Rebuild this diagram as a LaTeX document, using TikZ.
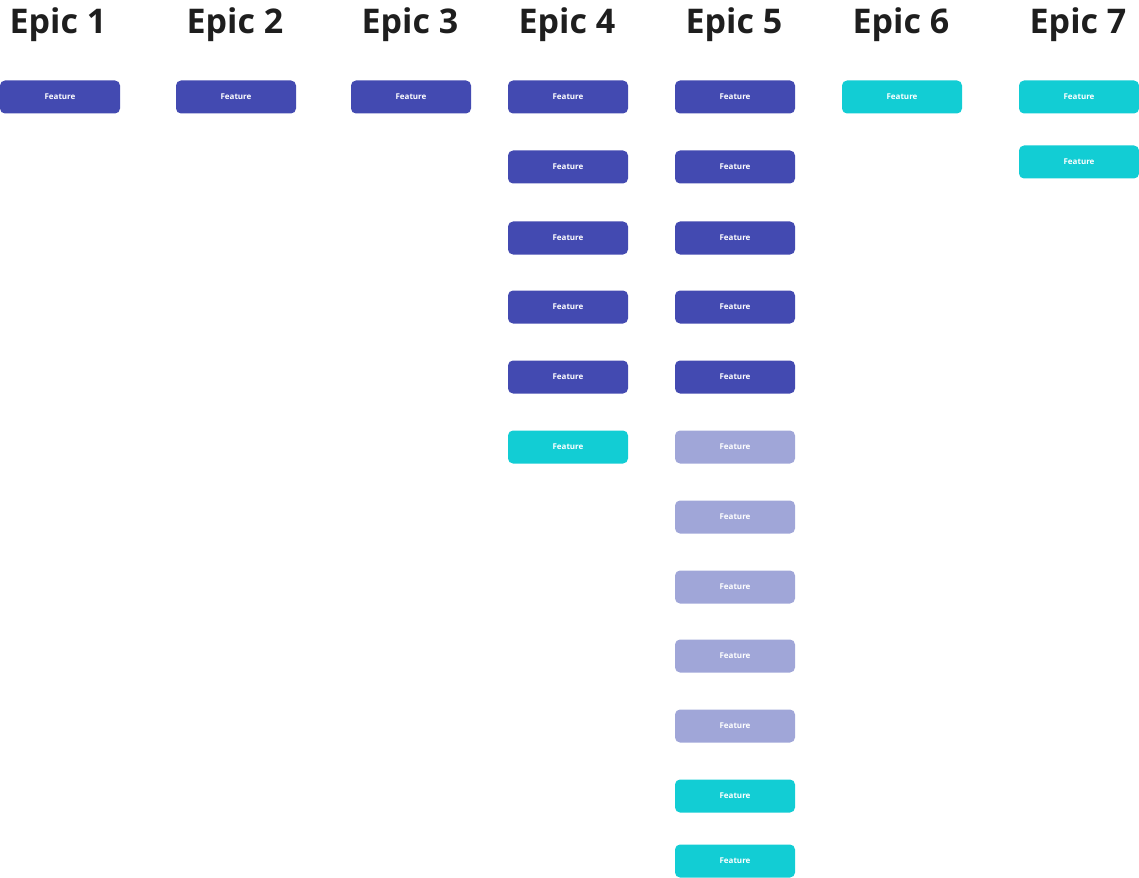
\documentclass[tikz,border=0pt]{standalone}
\usepackage{fontspec}
\setmainfont{Open Sans}
\usepackage{tikz}
\usetikzlibrary{positioning}
\usepackage{xcolor}
\definecolor{scuro}{HTML}{434AB1}
\definecolor{chiaro}{HTML}{A0A6D8}
\definecolor{ciano}{HTML}{12CDD4}
\definecolor{titolo}{HTML}{1E1E1E}
\tikzset{
    epic/.style = {font = \fontsize{34}{40}\selectfont\bfseries, text = titolo, inner sep = 0pt},
    feat/.style = {rounded corners = 5pt, minimum width = 120pt, minimum height = 33pt, inner sep = 0pt, text = white, font = \fontsize{8}{9}\selectfont\bfseries},
    fscuro/.style = {feat, fill = scuro},
    fchiaro/.style = {feat, fill = chiaro},
    fciano/.style = {feat, fill = ciano}
}

\begin{document}
\begin{tikzpicture}[x = 1pt, y = -1pt]
    % Riquadro
    \useasboundingbox (0,0) rectangle (1139,877);
    % Titoli
    \node[epic] (e1) at (58,25) {Epic 1};
    \node[epic] (e2) at (235,25) {Epic 2};
    \node[epic] (e3) at (410,25) {Epic 3};
    \node[epic] (e4) at (567,25) {Epic 4};
    \node[epic] (e5) at (734,25) {Epic 5};
    \node[epic] (e6) at (901,25) {Epic 6};
    \node[epic] (e7) at (1078,25) {Epic 7};
    % Epic 1, 2, 3
    \node[fscuro] (f11) at (60,97) {Feature};
    \node[fscuro] (f21) at (236,97) {Feature};
    \node[fscuro] (f31) at (411,97) {Feature};
    % Epic 4
    \node[fscuro] (f41) at (568,97) {Feature};
    \node[fscuro] (f42) at (568,167) {Feature};
    \node[fscuro] (f43) at (568,238) {Feature};
    \node[fscuro] (f44) at (568,307) {Feature};
    \node[fscuro] (f45) at (568,377) {Feature};
    \node[fciano] (f46) at (568,447) {Feature};
    % Epic 5
    \node[fscuro] (f51) at (735,97) {Feature};
    \node[fscuro] (f52) at (735,167) {Feature};
    \node[fscuro] (f53) at (735,238) {Feature};
    \node[fscuro] (f54) at (735,307) {Feature};
    \node[fscuro] (f55) at (735,377) {Feature};
    \node[fchiaro] (f56) at (735,447) {Feature};
    \node[fchiaro] (f57) at (735,517) {Feature};
    \node[fchiaro] (f58) at (735,587) {Feature};
    \node[fchiaro] (f59) at (735,656) {Feature};
    \node[fchiaro] (f510) at (735,726) {Feature};
    \node[fciano] (f511) at (735,796) {Feature};
    \node[fciano] (f512) at (735,861) {Feature};
    % Epic 6, 7
    \node[fciano] (f61) at (902,97) {Feature};
    \node[fciano] (f71) at (1079,97) {Feature};
    \node[fciano] (f72) at (1079,162) {Feature};
\end{tikzpicture}
\end{document}
